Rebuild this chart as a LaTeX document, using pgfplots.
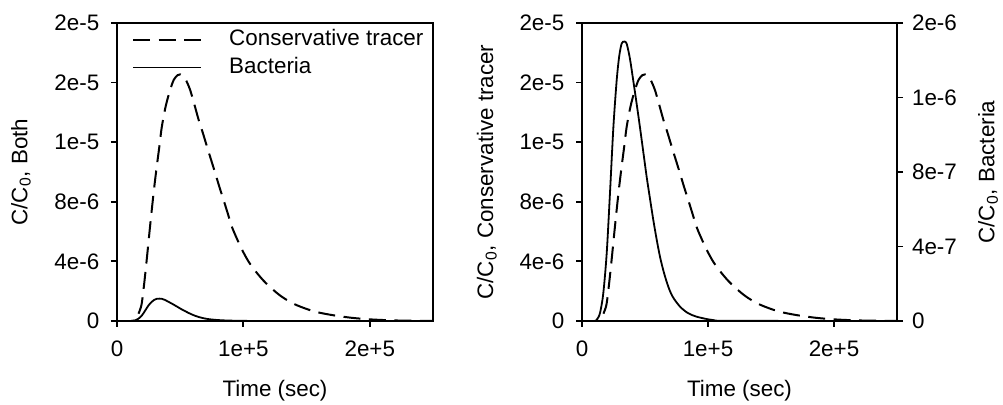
\documentclass[border=0pt]{standalone}
\usepackage{fontspec}
\setmainfont{Liberation Sans}
\usepackage{pgfplots}
\usepackage{pgfplotstable}
\pgfplotsset{compat=1.18}
\newcommand\fs{\fontsize{11.2}{13.4}\selectfont}

% time in 1000 s, concentration in 1e-6
\pgfplotstableread{
t c
0 0
12 0
14 0.05
16 0.3
18 0.7
19.6 1.19
21.5 2.5
23.5 4.1
25.5 5.8
27.5 7.45
29.5 9.0
31.5 10.4
33.5 11.7
35.4 13.0
38.5 14.4
42 15.5
45 16.2
48 16.5
50 16.55
53 16.4
55.5 16.0
57.9 15.5
61 14.6
64.6 13.5
68 12.6
71.2 11.7
74.5 10.8
77.8 9.9
81 9.0
84.4 8.1
87.7 7.2
91 6.3
95 5.5
99 4.77
104 4.0
109.5 3.35
116 2.7
122.8 2.15
130 1.65
138.7 1.2
147 0.9
157 0.62
170 0.4
185 0.22
200 0.11
215 0.05
230 0.02
250 0.01
}\tracer

\pgfplotstableread{
t c
0 0
10 0
12 0.01
14.3 0.043
16.9 0.149
19.6 0.363
22.2 0.686
24.9 1.04
27.5 1.29
29.5 1.42
31.5 1.49
33.5 1.50
35.4 1.49
38 1.41
40.7 1.29
43.3 1.17
46 1.04
48.6 0.91
51.3 0.775
54 0.655
56.6 0.542
59.2 0.44
61.9 0.345
65 0.26
68.5 0.184
72 0.13
77.8 0.077
84 0.043
91 0.023
104 0.005
120 0.001
250 0
}\bact

\pgfplotsset{
  panel/.style={
    scale only axis, width=158pt, height=149pt,
    xmin=0, xmax=250, ymin=0, ymax=20,
    xtick={0,100,200}, xticklabels={0,1e+5,2e+5},
    ytick={0,4,8,12,16,20}, yticklabels={0,4e-6,8e-6,1e-5,2e-5,2e-5},
    tick align=outside, major tick length=3pt,
    xtick pos=bottom, ytick pos=left,
    axis line style={line width=1pt},
    every tick/.style={line width=0.9pt, black},
    ticklabel style={font=\fs},
    label style={font=\fs},
    xticklabel style={yshift=-3.5pt},
    yticklabel style={xshift=-2.3pt},
    xlabel={Time (sec)},
    xlabel style={at={(axis description cs:0.5,-0.235)}, anchor=center},
  },
  trc/.style={black, line width=1pt, dash pattern=on 8.5pt off 4.25pt, smooth, tension=0.5},
  bac/.style={black, line width=0.9pt, smooth, tension=0.5},
}

\begin{document}
\begin{tikzpicture}
\useasboundingbox (0,0) rectangle (501.5pt,202.5pt);

% left panel
\begin{axis}[panel, at={(58.5pt,42pt)}, anchor=south west,
  ylabel={C/C\textsubscript{0}, Both},
  ylabel style={at={(axis description cs:-0.304,0.5)}, anchor=center},
  legend style={draw=none, fill=none, at={(rel axis cs:0.047,0.99)}, anchor=north west,
    inner sep=0pt, font=\fs, column sep=12pt, row sep=0.8pt,
    nodes={inner sep=1.5pt, text height=8.2pt, text depth=2pt}},
  legend cell align=left,
  legend image code/.code={\draw[#1] (0pt,0pt) -- (34pt,0pt);},
]
\addplot[trc] table[x=t,y=c] {\tracer};
\addlegendentry{Conservative tracer}
\addplot[bac] table[x=t,y=c] {\bact};
\addlegendentry{Bacteria}
\end{axis}

% right panel, tracer on left axis
\begin{axis}[panel, at={(291pt,42pt)}, anchor=south west, width=157.5pt,
  ylabel={C/C\textsubscript{0}, Conservative tracer},
  ylabel style={at={(axis description cs:-0.302,0.5)}, anchor=center},
]
\addplot[trc] table[x=t,y=c] {\tracer};
\end{axis}

% right panel, bacteria on right axis
\begin{axis}[scale only axis, at={(291pt,42pt)}, anchor=south west, width=157.5pt, height=149pt,
  xmin=0, xmax=250, ymin=0, ymax=1.6,
  axis x line=none, axis y line*=right,
  y axis line style={-, line width=1pt},
  ytick={0,0.4,0.8,1.2,1.6}, yticklabels={0,4e-7,8e-7,1e-6,2e-6},
  tick align=outside, major tick length=3pt,
  every tick/.style={line width=0.9pt, black},
  ticklabel style={font=\fs},
  label style={font=\fs},
  yticklabel style={xshift=1pt},
  ylabel={C/C\textsubscript{0}, Bacteria},
  ylabel style={at={(axis description cs:1.289,0.5)}, anchor=center},
]
\addplot[bac] table[x=t,y=c] {\bact};
\end{axis}
\end{tikzpicture}
\end{document}
